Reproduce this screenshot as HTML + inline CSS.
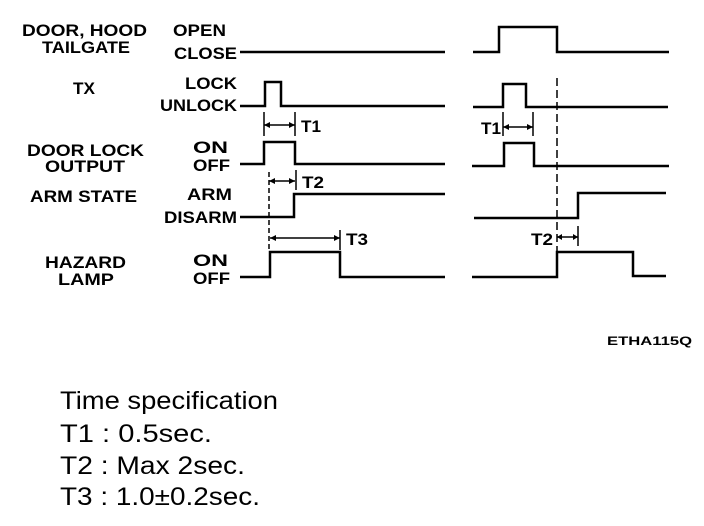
<!DOCTYPE html>
<html><head><style>body{margin:0;background:#fff}svg{display:block}</style></head><body>
<svg width="704" height="526" xmlns="http://www.w3.org/2000/svg" font-family="Liberation Sans, Arial, sans-serif">
<g font-weight="bold" font-size="17" fill="#000" lengthAdjust="spacingAndGlyphs">
<text x="22" y="36" textLength="125" lengthAdjust="spacingAndGlyphs">DOOR, HOOD</text>
<text x="42" y="53" textLength="88" lengthAdjust="spacingAndGlyphs">TAILGATE</text>
<text x="73" y="94" textLength="22" lengthAdjust="spacingAndGlyphs">TX</text>
<text x="27" y="156" textLength="117" lengthAdjust="spacingAndGlyphs">DOOR LOCK</text>
<text x="45" y="172" textLength="80" lengthAdjust="spacingAndGlyphs">OUTPUT</text>
<text x="30" y="202" textLength="107" lengthAdjust="spacingAndGlyphs">ARM STATE</text>
<text x="45" y="268" textLength="81" lengthAdjust="spacingAndGlyphs">HAZARD</text>
<text x="58" y="285" textLength="56" lengthAdjust="spacingAndGlyphs">LAMP</text>
<text x="173" y="36" textLength="53" lengthAdjust="spacingAndGlyphs">OPEN</text>
<text x="174" y="59" textLength="63" lengthAdjust="spacingAndGlyphs">CLOSE</text>
<text x="185" y="89" textLength="52" lengthAdjust="spacingAndGlyphs">LOCK</text>
<text x="160" y="111" textLength="77" lengthAdjust="spacingAndGlyphs">UNLOCK</text>
<text x="193" y="153" textLength="35" lengthAdjust="spacingAndGlyphs">ON</text>
<text x="193" y="171" textLength="37" lengthAdjust="spacingAndGlyphs">OFF</text>
<text x="187" y="200" textLength="45" lengthAdjust="spacingAndGlyphs">ARM</text>
<text x="164" y="223" textLength="73" lengthAdjust="spacingAndGlyphs">DISARM</text>
<text x="193" y="266" textLength="35" lengthAdjust="spacingAndGlyphs">ON</text>
<text x="193" y="284" textLength="37" lengthAdjust="spacingAndGlyphs">OFF</text>
<text x="301" y="132" textLength="20" lengthAdjust="spacingAndGlyphs">T1</text>
<text x="302" y="188" textLength="22" lengthAdjust="spacingAndGlyphs">T2</text>
<text x="346" y="245" textLength="22" lengthAdjust="spacingAndGlyphs">T3</text>
<text x="481" y="134" textLength="20" lengthAdjust="spacingAndGlyphs">T1</text>
<text x="531" y="245" textLength="22" lengthAdjust="spacingAndGlyphs">T2</text>
<text x="607" y="345" font-size="12" textLength="85" lengthAdjust="spacingAndGlyphs">ETHA115Q</text>
</g>
<g fill="none" stroke="#000" stroke-width="2.5">
<path d="M240 52H445"/>
<path d="M240 106H265V82H281V106H445"/>
<path d="M240 164H264V142H295V164H445"/>
<path d="M240 217H294V194H445"/>
<path d="M240 277H270V252H340V277H445"/>
<path d="M473 52H499V27H557V52H669"/>
<path d="M473 107H503V84H526V107H668"/>
<path d="M472 166H504V143H534V166H669"/>
<path d="M474 218H578V193H666"/>
<path d="M472 277H557V252H633V276H666"/>
</g>
<g stroke="#000" stroke-width="1.5" fill="none">
<path d="M264 112V136M295 112V136M264 125H295"/>
<path d="M296 170V190M269 181H295"/>
<path d="M340 230V250M270 238H340"/>
<path d="M503 112V136M533 112V136M503 127H533"/>
<path d="M578 226V246M557 237H578"/>
<path d="M269 172V252" stroke-dasharray="5 3"/>
<path d="M557 78V252" stroke-dasharray="8 4"/>
</g>
<g fill="#000">
<path d="M264 125l6-3v6z M295 125l-6-3v6z"/>
<path d="M269 181l6-3v6z M295 181l-6-3v6z"/>
<path d="M270 238l6-3v6z M340 238l-6-3v6z"/>
<path d="M503 127l6-3v6z M533 127l-6-3v6z"/>
<path d="M557 237l5-3v6z M578 237l-5-3v6z"/>
</g>
<g font-size="25" fill="#000">
<text x="60" y="409" textLength="218" lengthAdjust="spacingAndGlyphs">Time specification</text>
<text x="60" y="442" textLength="152" lengthAdjust="spacingAndGlyphs">T1 :  0.5sec.</text>
<text x="60" y="474" textLength="185" lengthAdjust="spacingAndGlyphs">T2 :  Max 2sec.</text>
<text x="60" y="505" textLength="200" lengthAdjust="spacingAndGlyphs">T3 :  1.0±0.2sec.</text>
</g>
</svg>
</body></html>
